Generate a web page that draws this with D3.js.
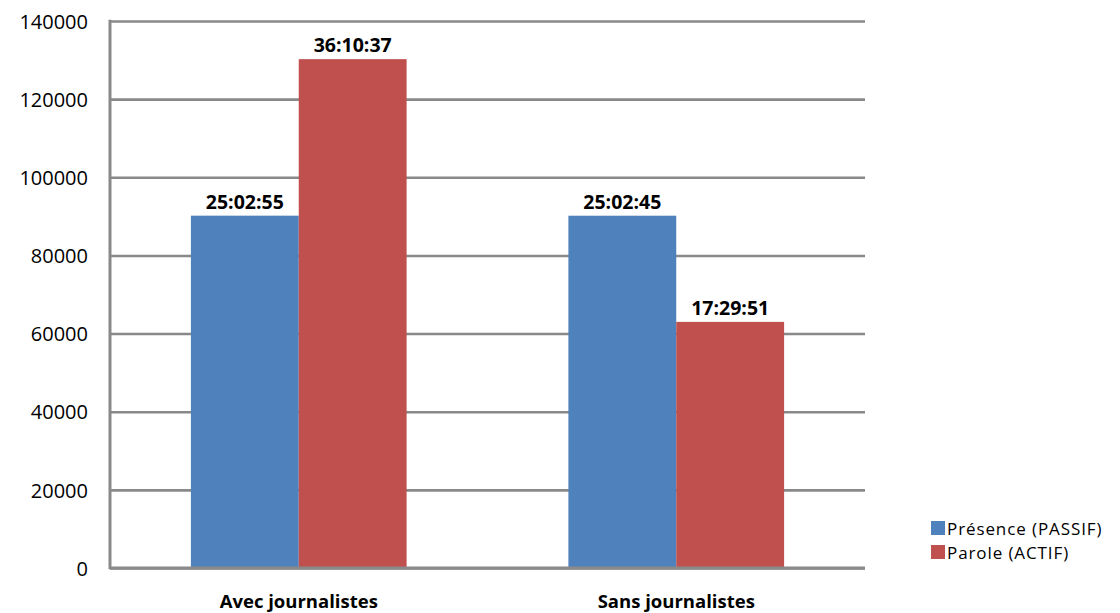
<!DOCTYPE html>
<html>
<head>
<meta charset="utf-8">
<script src="https://cdn.jsdelivr.net/npm/d3@7"></script>
<style>
  html, body { margin: 0; padding: 0; background: #fff; }
  svg { display: block; }
  text { font-family: "Open Sans", "Noto Sans", sans-serif; fill: #000; }
</style>
</head>
<body>
<svg id="chart" width="1120" height="613"></svg>
<script>
// Durées en secondes, affichées en h:mm:ss
const categories = ["Avec journalistes", "Sans journalistes"];
const seriesNames = ["Présence (PASSIF)", "Parole (ACTIF)"];
const presence = [90175, 90165];   // 25:02:55, 25:02:45
const parole = [130237, 62991];    // 36:10:37, 17:29:51
const yTicks = [0, 20000, 40000, 60000, 80000, 100000, 120000, 140000];
const colors = ["#4F81BD", "#C0504D"];

const seriesValues = [presence, parole];

const svg = d3.select("#chart");
const margin = { left: 110, right: 255, top: 21, bottom: 45 };
const W = 1120, H = 613;
const plotLeft = margin.left, plotRight = W - margin.right;
const plotTop = margin.top, plotBottom = H - margin.bottom;

const y = d3.scaleLinear().domain([0, 140000]).range([plotBottom, plotTop]);
const x0 = d3.scaleBand().domain(categories).range([plotLeft, plotRight]).padding(0);
// gap width 150 % : bars occupy 2 of 3.5 units inside each category
const unit = x0.bandwidth() / 3.5;
const x1 = d3.scaleBand().domain(seriesNames).range([unit * 0.75, unit * 2.75]).padding(0);

function hms(s) {
  const h = Math.floor(s / 3600);
  const m = Math.floor((s % 3600) / 60);
  const sec = s % 60;
  return h + ":" + String(m).padStart(2, "0") + ":" + String(sec).padStart(2, "0");
}

// Horizontal gridlines and value labels
const yAxis = d3.axisLeft(y).tickValues(yTicks).tickSize(-(plotRight - plotLeft)).tickPadding(22).tickFormat(d3.format("d"));
const gy = svg.append("g").attr("transform", `translate(${plotLeft},0)`).call(yAxis);
gy.select(".domain").remove();
gy.selectAll(".tick line").attr("stroke", "#898989").attr("stroke-width", 2.6);
gy.selectAll(".tick text").style("font-size", "20px").attr("dy", "0.36em");

// Bars
const groups = svg.append("g").selectAll("g")
  .data(categories)
  .join("g")
  .attr("transform", d => `translate(${x0(d)},0)`);

groups.selectAll("rect")
  .data((c, ci) => seriesNames.map((s, si) => ({ s, si, v: seriesValues[si][ci] })))
  .join("rect")
  .attr("x", d => x1(d.s))
  .attr("width", x1.bandwidth())
  .attr("y", d => y(d.v))
  .attr("height", d => y(0) - y(d.v))
  .attr("fill", d => colors[d.si]);

groups.selectAll("text.val")
  .data((c, ci) => seriesNames.map((s, si) => ({ s, si, v: seriesValues[si][ci] })))
  .join("text")
  .attr("class", "val")
  .attr("x", d => x1(d.s) + x1.bandwidth() / 2)
  .attr("y", d => y(d.v) - 7)
  .attr("text-anchor", "middle")
  .style("font-size", "19.5px")
  .style("font-weight", "bold")
  .text(d => hms(d.v));

// Axis lines
svg.append("line")
  .attr("x1", plotLeft).attr("x2", plotLeft)
  .attr("y1", plotTop - 1.3).attr("y2", plotBottom + 1.3)
  .attr("stroke", "#898989").attr("stroke-width", 3);
svg.append("line")
  .attr("x1", plotLeft).attr("x2", plotRight)
  .attr("y1", plotBottom).attr("y2", plotBottom)
  .attr("stroke", "#898989").attr("stroke-width", 3);

// Category labels
const xAxis = d3.axisBottom(x0).tickSize(0).tickPadding(0);
const gx = svg.append("g").attr("transform", `translate(0,${plotBottom})`).call(xAxis);
gx.select(".domain").remove();
gx.selectAll(".tick text")
  .attr("y", 40).attr("dy", 0)
  .style("font-size", "18.5px")
  .style("font-weight", "bold");

// Legend
const legend = svg.append("g").attr("transform", "translate(931,521)");
const items = legend.selectAll("g").data(seriesNames).join("g")
  .attr("transform", (d, i) => `translate(0,${i * 24})`);
items.append("rect").attr("width", 14).attr("height", 14).attr("fill", (d, i) => colors[i]);
items.append("text").attr("x", 16).attr("y", 13.5)
  .style("font-size", "17px").style("letter-spacing", "0.9px").text(d => d);
</script>
</body>
</html>
